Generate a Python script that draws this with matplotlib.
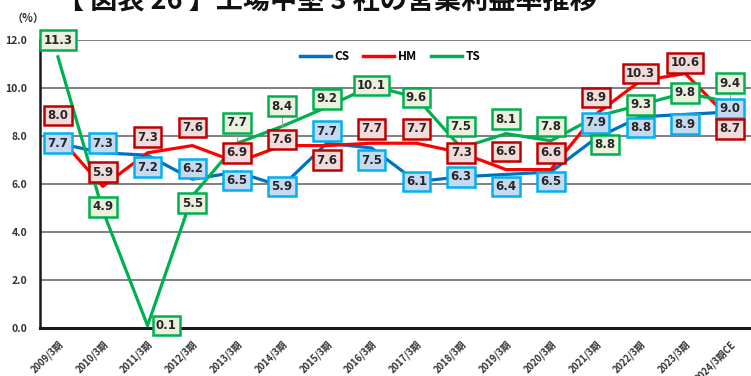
import numpy as np
import matplotlib.pyplot as plt
from matplotlib.lines import Line2D

plt.rcParams['font.family'] = ['Noto Sans CJK JP', 'DejaVu Sans']

# ---------------- data ----------------
periods = ["2009/3期", "2010/3期", "2011/3期", "2012/3期", "2013/3期", "2014/3期",
           "2015/3期", "2016/3期", "2017/3期", "2018/3期", "2019/3期", "2020/3期",
           "2021/3期", "2022/3期", "2023/3期", "2024/3期CE"]
cs = [7.7, 7.3, 7.2, 6.2, 6.5, 5.9, 7.7, 7.5, 6.1, 6.3, 6.4, 6.5, 7.9, 8.8, 8.9, 9.0]
hm = [8.0, 5.9, 7.3, 7.6, 6.9, 7.6, 7.6, 7.7, 7.7, 7.3, 6.6, 6.6, 8.9, 10.3, 10.6, 8.7]
ts = [11.3, 4.9, 0.1, 5.5, 7.7, 8.4, 9.2, 10.1, 9.6, 7.5, 8.1, 7.8, 8.8, 9.3, 9.8, 9.4]

# label offsets (value units) for each data label
cs_dy = [0, 0.4, -0.5, 0.45, -0.35, 0, 0.5, -0.5, 0, 0, -0.5, -0.4, 0.65, -0.45, -0.4, 0.15]
hm_dy = [0.85, 0.6, 0.65, 0.75, 0.4, 0.25, -0.6, 0.6, 0.6, 0, 0.75, 0.7, 0.7, 0.3, 0.45, -0.4]
ts_dy = [0.7, 0.15, 0, -0.3, 0.85, 0.85, 0.35, 0, 0, 0.9, 0.6, 0.6, -1.15, 0, 0, 0.8]
ts_dx = [0] * 16
ts_dx[2] = 0.42
ts_dx[12] = 0.2
ts_leader = [4, 5, 9, 12, 15]

series = [
    ("CS", cs, cs_dy, [0] * 16, [], "#0070C0", "#00B0F0", "#C5D9F1"),
    ("HM", hm, hm_dy, [0] * 16, [], "#FF0000", "#C00000", "#F2DCDB"),
    ("TS", ts, ts_dy, ts_dx, ts_leader, "#00B050", "#00B050", "#EBF1DE"),
]

fig = plt.figure(figsize=(7.51, 3.76), dpi=100)
ax = fig.add_axes([40 / 751, 48 / 376, 717 / 751, 288 / 376])

x = np.arange(len(periods))

for name, vals, dys, dxs, leaders, lc, ec, fc in series:
    ax.plot(x, vals, color=lc, lw=2.3, zorder=3, solid_joinstyle="round")

for name, vals, dys, dxs, leaders, lc, ec, fc in series:
    for i, v in enumerate(vals):
        tx, ty = x[i] + dxs[i], v + dys[i]
        if i in leaders:
            ax.plot([x[i], tx], [v, ty], color="#A6A6A6", lw=0.8, zorder=4)
        ax.text(tx, ty, f"{v:.1f}", ha="center", va="center", fontsize=8.5,
                fontweight="bold", color="#262626", family="DejaVu Sans",
                zorder=6, clip_on=False,
                bbox=dict(boxstyle="square,pad=0.28", fc=fc, ec=ec, lw=1.8))

ax.set_xlim(-0.4, 15.6)
ax.set_ylim(0, 12)
ax.set_yticks(np.arange(0, 12.1, 2))
ax.set_yticklabels([f"{t:.1f}" for t in np.arange(0, 12.1, 2)],
                   fontsize=7.5, fontweight="bold", color="#333333")
ax.set_xticks(x)
ax.set_xticklabels(periods, rotation=45, ha="right", rotation_mode="anchor",
                   fontsize=6.8, fontweight="bold", color="#333333")
ax.tick_params(axis="both", length=0)
ax.tick_params(axis="y", pad=9)
ax.tick_params(axis="x", pad=8)

ax.grid(axis="y", color="#7F7F7F", lw=1.4, zorder=1)
ax.set_axisbelow(True)
for s in ["top", "right"]:
    ax.spines[s].set_visible(False)
ax.spines["left"].set_linewidth(1.8)
ax.spines["bottom"].set_linewidth(2.2)
ax.spines["left"].set_color("#1a1a1a")
ax.spines["bottom"].set_color("#1a1a1a")

handles = [Line2D([], [], color=s[5], lw=2.5) for s in series]
leg = ax.legend(handles, [s[0] for s in series], loc="center",
                bbox_to_anchor=(390 / 717 - 40 / 717, 1 - 17 / 288), ncol=3,
                frameon=False, handlelength=2.6, columnspacing=1.2,
                handletextpad=0.3, prop=dict(weight="bold", size=8.5))

fig.text(12 / 751, 1 - 18 / 376, "（%）", fontsize=8, fontweight="bold",
         va="center", ha="left", color="#333333")
fig.text(57 / 751, 1 - 16 / 376, "【 図表 26 】工場中堅 3 社の営業利益率推移",
         fontsize=19.5, fontweight="bold", va="bottom", ha="left", color="#111111")

plt.savefig("out.png", dpi=100)
